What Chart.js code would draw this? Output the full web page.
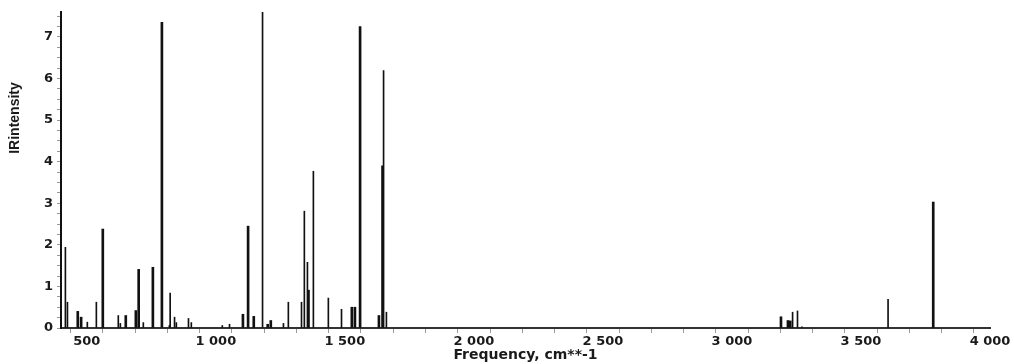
<!DOCTYPE html>
<html lang="en">
<head>
    <meta charset="UTF-8">
    <title>IR spectrum</title>
    <style>
        body { margin: 0; background: #fff; }
        .wrap { width: 1014px; height: 364px; position: relative; }
    </style>
</head>
<body>
<div class="wrap">
    <canvas id="irChart"></canvas>
</div>

<script src="https://cdn.jsdelivr.net/npm/chart.js"></script>
<script>
    // thin sticks (frequency, intensity)
    const thinFreq = [417, 425, 502, 537, 622, 630, 719, 820, 823, 840, 847, 894, 905, 1025, 1053, 1181, 1262, 1281,
        1332, 1343, 1355, 1378, 1436, 1487, 1650, 1661, 3235, 3254, 3271, 3605];
    const thinInt = [1.94, 0.62, 0.14, 0.62, 0.30, 0.11, 0.13, 0.06, 0.84, 0.26, 0.13, 0.23, 0.13, 0.06, 0.09, 7.6, 0.11, 0.62,
        0.62, 2.81, 1.58, 3.77, 0.72, 0.45, 6.19, 0.38, 0.38, 0.41, 0.03, 0.69];

    // thicker sticks
    const thickFreq = [465, 478, 562, 651, 690, 701, 756, 791, 1105, 1125, 1147, 1201, 1213, 1359, 1527, 1539, 1559,
        1632, 1646, 3190, 3217, 3226, 3780];
    const thickInt = [0.40, 0.26, 2.38, 0.30, 0.42, 1.41, 1.46, 7.35, 0.33, 2.45, 0.28, 0.09, 0.18, 0.91, 0.50, 0.50, 7.25,
        0.30, 3.90, 0.27, 0.18, 0.17, 3.03];

    const xMajor = [500, 1000, 1500, 2000, 2500, 3000, 3500, 4000];
    const yMajor = [0, 1, 2, 3, 4, 5, 6, 7];

    const tickFont = { family: "'DejaVu Sans', Verdana, sans-serif", size: 13, weight: 'bold' };

    function pts(xs, ys) {
        return xs.map((x, i) => ({ x: x, y: ys[i] }));
    }

    function fmt(v) {
        return String(v).replace(/\B(?=(\d{3})+(?!\d))/g, ' ');
    }

    // y title sits higher than centre in the original
    const yTitle = {
        id: 'yTitle',
        afterDraw(chart) {
            const ctx = chart.ctx;
            ctx.save();
            ctx.translate(15, 118);
            ctx.rotate(-Math.PI / 2);
            ctx.font = "bold 14px 'Liberation Sans', Arial, sans-serif";
            ctx.fillStyle = '#1a1a1a';
            ctx.textAlign = 'center';
            ctx.textBaseline = 'middle';
            ctx.fillText('IRintensity', 0, 0);
            ctx.restore();
        }
    };

    new Chart(document.getElementById('irChart'), {
        type: 'bar',
        data: {
            datasets: [
                {
                    label: 'thin',
                    data: pts(thinFreq, thinInt),
                    backgroundColor: '#111',
                    barThickness: 1,
                    grouped: false
                },
                {
                    label: 'thick',
                    data: pts(thickFreq, thickInt),
                    backgroundColor: '#111',
                    barThickness: 2,
                    grouped: false
                }
            ]
        },
        options: {
            responsive: true,
            maintainAspectRatio: false,
            animation: false,
            layout: { padding: { top: 12, right: 24, left: 0, bottom: 0 } },
            plugins: {
                legend: { display: false },
                tooltip: { enabled: false }
            },
            scales: {
                x: {
                    type: 'linear',
                    min: 400,
                    max: 4000,
                    offset: false,
                    border: { display: true, color: '#333', width: 2 },
                    grid: { drawOnChartArea: false, drawTicks: true, tickLength: 5, color: '#999' },
                    ticks: {
                        autoSkip: false,
                        maxRotation: 0,
                        padding: 1,
                        color: '#1a1a1a',
                        font: tickFont,
                        callback: v => xMajor.includes(v) ? fmt(v) : ''
                    },
                    // major every 500, minor every 125
                    afterBuildTicks(scale) {
                        const t = [];
                        for (let v = 500; v <= 4000; v += 125) t.push({ value: v });
                        scale.ticks = t;
                    },
                    title: {
                        display: true,
                        text: 'Frequency, cm**-1',
                        color: '#1a1a1a',
                        font: { family: "'DejaVu Sans', Verdana, sans-serif", size: 14, weight: 'bold' },
                        padding: { top: 0, bottom: 0 }
                    },
                    afterFit(scale) {
                        scale.height = 36;
                        scale.paddingLeft = 0;
                        scale.paddingRight = 0;
                    }
                },
                y: {
                    min: 0,
                    max: 7.6,
                    border: { display: true, color: '#111', width: 2 },
                    grid: { drawOnChartArea: false, drawTicks: true, tickLength: 4, color: '#999' },
                    ticks: {
                        autoSkip: false,
                        padding: 4,
                        color: '#1a1a1a',
                        font: tickFont,
                        callback: v => yMajor.includes(v) ? String(v) : ''
                    },
                    afterBuildTicks(scale) {
                        const t = [];
                        for (let v = 0; v <= 7.5; v += 0.25) t.push({ value: v });
                        scale.ticks = t;
                    },
                    afterFit(scale) {
                        scale.width = 61;
                        scale.paddingTop = 0;
                        scale.paddingBottom = 0;
                    }
                }
            }
        },
        plugins: [yTitle]
    });
</script>
</body>
</html>
